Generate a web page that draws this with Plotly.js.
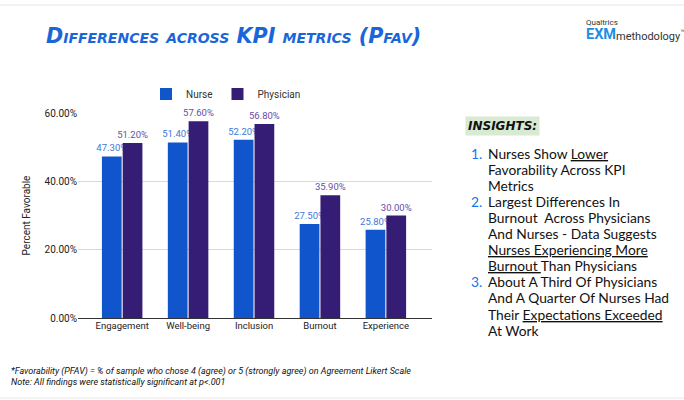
<!DOCTYPE html>
<html><head><meta charset="utf-8">
<script src="https://cdn.plot.ly/plotly-3.0.1.min.js"></script>
<style>html,body{margin:0;padding:0;background:#fff;}#chart{width:684px;height:400px;}</style>
</head><body><div id="chart"></div>
<script>
const categories = ["Engagement", "Well-being", "Inclusion", "Burnout", "Experience"];
const nurse = [47.3, 51.4, 52.2, 27.5, 25.8];
const physician = [51.2, 57.6, 56.8, 35.9, 30.0];
const seriesNames = ["Nurse", "Physician"];
const yTicks = [0, 20, 40, 60];
const yTickLabels = ["0.00%", "20.00%", "40.00%", "60.00%"];
const insightLines = [
  ["1.", "Nurses Show <u>Lower</u>"],
  ["", "Favorability Across KPI"],
  ["", "Metrics"],
  ["2.", "Largest Differences In"],
  ["", "Burnout  Across Physicians"],
  ["", "And Nurses - Data Suggests"],
  ["", "<u>Nurses Experiencing More</u>"],
  ["", "<u>Burnout </u>Than Physicians"],
  ["3.", "About A Third Of Physicians"],
  ["", "And A Quarter Of Nurses Had"],
  ["", "Their <u>Expectations Exceeded</u>"],
  ["", "At Work"]
];
const footer = [
  "*Favorability (PFAV) = % of sample who chose 4 (agree) or 5 (strongly agree) on Agreement Likert Scale",
  "Note: All findings were statistically significant at p<.001"
];

const W = 684, H = 400, L = 78, R = 432, T = 113, B = 318;
const px = x => (x - L) / (R - L);
const py = y => (B - y) / (B - T);

const labelFont = {family: "Roboto, Arial, sans-serif", size: 9.5};
const traces = [
  {type: "bar", name: seriesNames[0], x: categories, y: nurse,
   marker: {color: "#1155cc"}, texttemplate: "%{y:.2f}%", textposition: "outside", constraintext: "none",
   textfont: Object.assign({color: "#3c78d8"}, labelFont), cliponaxis: false, hoverinfo: "none"},
  {type: "bar", name: seriesNames[1], x: categories, y: physician,
   marker: {color: "#351c75"}, texttemplate: "%{y:.2f}%", textposition: "outside", constraintext: "none",
   textfont: Object.assign({color: "#674ea7"}, labelFont), cliponaxis: false, hoverinfo: "none"}
];

const ann = [];
ann.push({xref: "paper", yref: "paper", x: px(44), y: py(36), xanchor: "left", yanchor: "middle",
  text: "Differences across KPI metrics (Pfav)", showarrow: false,
  font: {family: "DejaVu Sans, sans-serif", size: 20.7, color: "#1a66d9", weight: "bold", style: "italic", variant: "small-caps"}});
ann.push({xref: "paper", yref: "paper", x: px(584), y: py(22), xanchor: "left", yanchor: "middle",
  text: "Qualtrics", showarrow: false, font: {family: "Roboto, Arial, sans-serif", size: 8, color: "#333"}});
ann.push({xref: "paper", yref: "paper", x: px(584), y: py(34), xanchor: "left", yanchor: "middle",
  text: "<b>EXM</b>", showarrow: false, font: {family: "Roboto, Arial, sans-serif", size: 14.5, color: "#1c8fe3"}});
ann.push({xref: "paper", yref: "paper", x: px(614), y: py(35), xanchor: "left", yanchor: "middle",
  text: "methodology<sup>™</sup>", showarrow: false, font: {family: "Roboto, Arial, sans-serif", size: 11, color: "#333"}});
ann.push({xref: "paper", yref: "paper", x: px(465), y: py(126), xanchor: "left", yanchor: "middle",
  text: "INSIGHTS:", showarrow: false, bgcolor: "#d9ead3", borderpad: 2,
  font: {family: "DejaVu Sans, sans-serif", size: 12, color: "#111", weight: "bold", style: "italic"}});
insightLines.forEach((ln, i) => {
  const yy = 153 + i * 16.1;
  if (ln[0]) ann.push({xref: "paper", yref: "paper", x: px(469), y: py(yy), xanchor: "left", yanchor: "middle",
    text: ln[0], showarrow: false, font: {family: "Lato, sans-serif", size: 13.8, color: "#1a73e8"}});
  ann.push({xref: "paper", yref: "paper", x: px(486), y: py(yy), xanchor: "left", yanchor: "middle",
    text: ln[1], showarrow: false, font: {family: "Lato, sans-serif", size: 13.8, color: "#111"}});
});
footer.forEach((t, i) => {
  ann.push({xref: "paper", yref: "paper", x: px(9), y: py(371 + i * 11.3), xanchor: "left", yanchor: "middle",
    text: t, showarrow: false, font: {family: "Roboto, Arial, sans-serif", size: 9, color: "#111", style: "italic"}});
});

const layout = {
  width: W, height: H,
  margin: {l: L, r: W - R, t: T, b: H - B, pad: 0},
  paper_bgcolor: "#fff", plot_bgcolor: "#fff",
  barmode: "group", bargap: 0.37, bargroupgap: 0.05,
  showlegend: true,
  legend: {orientation: "h", xref: "paper", yref: "paper", x: px(226), y: py(94), xanchor: "center", yanchor: "middle",
    font: {family: "Roboto, Arial, sans-serif", size: 10, color: "#333"}, itemwidth: 30},
  xaxis: {type: "category", range: [-0.67, 4.7], showgrid: false, zeroline: false, showline: false,
    ticks: "", tickfont: {family: "Roboto, Arial, sans-serif", size: 9.5, color: "#222"}},
  yaxis: {range: [0, 60], tickvals: yTicks, ticktext: yTickLabels, showgrid: true, gridcolor: "#d9d9d9",
    zeroline: true, zerolinecolor: "#333", zerolinewidth: 1, ticks: "", ticklen: 0, automargin: false,
    tickfont: {family: "Roboto, Arial, sans-serif", size: 10, color: "#222"},
    title: {text: "Percent Favorable", standoff: 12, font: {family: "Roboto, Arial, sans-serif", size: 10, color: "#222"}}},
  annotations: ann,
  shapes: [
    {type: "line", xref: "paper", yref: "paper", x0: px(0), x1: px(684), y0: py(5), y1: py(5), line: {color: "#e6e6e6", width: 1}},
    {type: "line", xref: "paper", yref: "paper", x0: px(0), x1: px(684), y0: py(398), y1: py(398), line: {color: "#e6e6e6", width: 1}}
  ]
};
Plotly.newPlot("chart", traces, layout, {staticPlot: true, displayModeBar: false});
</script></body></html>
